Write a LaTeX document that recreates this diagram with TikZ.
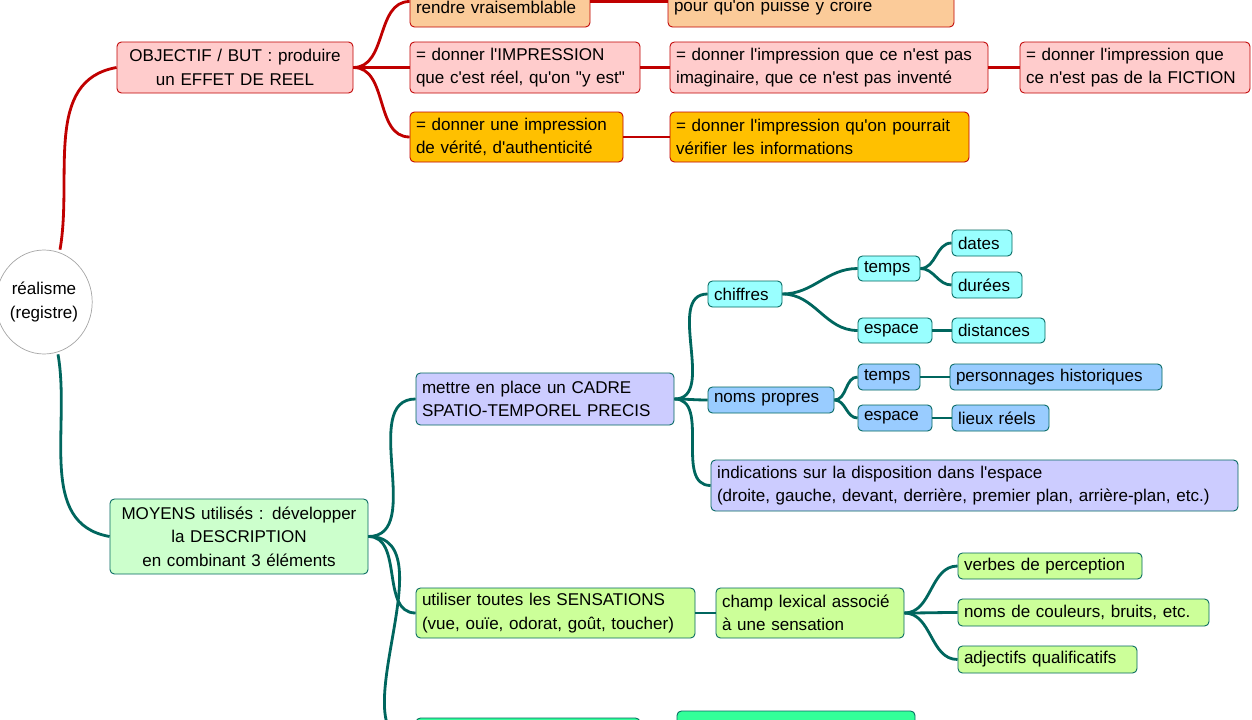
\documentclass[tikz,border=0pt]{standalone}
\usepackage{fontspec}
\setmainfont{Liberation Sans}[Ligatures=TeXOff]
\usetikzlibrary{shapes.geometric}
\definecolor{rl}{HTML}{C00000}
\definecolor{tl}{HTML}{00665E}
\definecolor{pk}{HTML}{FFCCCC}
\definecolor{org}{HTML}{FBCB99}
\definecolor{gold}{HTML}{FFC000}
\definecolor{lg}{HTML}{CCFFCC}
\definecolor{lav}{HTML}{CCCCFF}
\definecolor{cy}{HTML}{99FFFF}
\definecolor{bl}{HTML}{99CCFF}
\definecolor{yg}{HTML}{CCFF99}
\definecolor{gr}{HTML}{33FF99}
\newcommand{\bx}[9]{\node[box,fill=#6,draw=#7,align=#9,minimum width={(#4-#2)*0.02cm},minimum height={(#5-#3)*0.02cm},text width={(#4-#2)*0.02cm-0.24cm}] (#1) at ({(#2+#4)/2},{(#3+#5)/2}) {#8};}
\begin{document}
\begin{tikzpicture}[x=0.02cm,y=-0.02cm,
 box/.style={rectangle,rounded corners=2.5pt,line width=0.5pt,inner xsep=0.12cm,inner ysep=0pt,font=\fontsize{9.7}{13.4}\selectfont},
 rc/.style={draw=rl,line width=1.6pt},
 tc/.style={draw=tl,line width=1.6pt}]
\useasboundingbox (0,0) rectangle (1252,720);
\clip (0,0) rectangle (1252,720);
\node[ellipse,draw=gray!70,fill=white,minimum width={84*0.02cm},minimum height={104*0.02cm},align=center,inner sep=0pt,font=\fontsize{9.7}{13.4}\selectfont] (root) at (44,302) {réalisme\\(registre)};
\bx{obj}{117}{42}{353}{93}{pk}{rl}{OBJECTIF / BUT : produire\\un EFFET DE REEL}{center}
\bx{top1}{410}{-24}{590}{27}{org}{rl}{\\rendre vraisemblable}{left}
\bx{top2}{668}{-24}{954}{27}{org}{rl}{\\pour qu'on puisse y croire}{left}
\bx{imp1}{410}{42}{640}{93}{pk}{rl}{= donner l'IMPRESSION\\que c'est réel, qu'on "y est"}{left}
\bx{imp2}{670}{42}{988}{93}{pk}{rl}{= donner l'impression que ce n'est pas\\imaginaire, que ce n'est pas inventé}{left}
\bx{imp3}{1020}{42}{1250}{93}{pk}{rl}{= donner l'impression que\\ce n'est pas de la FICTION}{left}
\bx{ver1}{410}{112}{623}{162}{gold}{rl}{= donner une impression\\de vérité, d'authenticité}{left}
\bx{ver2}{670}{112}{969}{162}{gold}{rl}{= donner l'impression qu'on pourrait\\vérifier les informations}{left}
\bx{moy}{110}{499}{368}{574}{lg}{tl}{MOYENS utilisés : développer\\la DESCRIPTION\\en combinant 3 éléments}{center}
\bx{cadre}{416}{373}{674}{425}{lav}{tl}{mettre en place un CADRE\\SPATIO-TEMPOREL PRECIS}{left}
\bx{chif}{708}{281}{782}{307}{cy}{tl}{chiffres}{left}
\bx{t1}{858}{256}{920}{281}{cy}{tl}{temps}{left}
\bx{dates}{952}{230}{1012}{256}{cy}{tl}{dates}{left}
\bx{dur}{952}{272}{1022}{298}{cy}{tl}{durées}{left}
\bx{e1}{858}{318}{932}{343}{cy}{tl}{espace}{left}
\bx{dist}{952}{318}{1045}{343}{cy}{tl}{distances}{left}
\bx{np}{708}{387}{834}{413}{bl}{tl}{noms propres}{left}
\bx{t2}{858}{364}{920}{390}{bl}{tl}{temps}{left}
\bx{perso}{950}{364}{1162}{390}{bl}{tl}{personnages historiques}{left}
\bx{e2}{858}{405}{932}{431}{bl}{tl}{espace}{left}
\bx{lieux}{952}{405}{1049}{431}{bl}{tl}{lieux réels}{left}
\bx{indic}{711}{460}{1238}{511}{lav}{tl}{indications sur la disposition dans l'espace\\(droite, gauche, devant, derrière, premier plan, arrière-plan, etc.)}{left}
\bx{sens}{416}{588}{695}{638}{yg}{tl}{utiliser toutes les SENSATIONS\\(vue, ouïe, odorat, goût, toucher)}{left}
\bx{champ}{716}{588}{904}{638}{yg}{tl}{champ lexical associé\\à une sensation}{left}
\bx{verb}{958}{553}{1142}{579}{yg}{tl}{verbes de perception}{left}
\bx{coul}{958}{599}{1209}{626}{yg}{tl}{noms de couleurs, bruits, etc.}{left}
\bx{adj}{958}{646}{1137}{673}{yg}{tl}{adjectifs qualificatifs}{left}
\bx{b1}{416}{718}{640}{770}{gr}{tl}{}{left}
\bx{b2}{677}{711}{915}{762}{gr}{tl}{}{left}
% connectors
\draw[rc] (root.north) ++(16,0) to[out=80,in=190] (obj.west);
\draw[tc] (root.south) ++(14,0) to[out=-80,in=170] (moy.west);
\foreach \c in {top1,imp1,ver1} \draw[rc] (obj.east) to[out=0,in=180] (\c.west);
\draw[rc] (top1.east) -- (top2.west);
\draw[rc] (imp1.east) -- (imp2.west);
\draw[rc] (imp2.east) -- (imp3.west);
\draw[rc] (ver1.east) -- (ver2.west);
\foreach \c in {cadre,sens,b1} \draw[tc] (moy.east) to[out=0,in=180] (\c.west);
\foreach \c in {chif,np,indic} \draw[tc] (cadre.east) to[out=0,in=180] (\c.west);
\foreach \c in {t1,e1} \draw[tc] (chif.east) to[out=0,in=180] (\c.west);
\foreach \c in {dates,dur} \draw[tc] (t1.east) to[out=0,in=180] (\c.west);
\draw[tc] (e1.east) -- (dist.west);
\foreach \c in {t2,e2} \draw[tc] (np.east) to[out=0,in=180] (\c.west);
\draw[tc] (t2.east) -- (perso.west);
\draw[tc] (e2.east) -- (lieux.west);
\draw[tc] (sens.east) -- (champ.west);
\foreach \c in {verb,coul,adj} \draw[tc] (champ.east) to[out=0,in=180] (\c.west);
\draw[tc] (b1.east) -- (b2.west);
\end{tikzpicture}
\end{document}
